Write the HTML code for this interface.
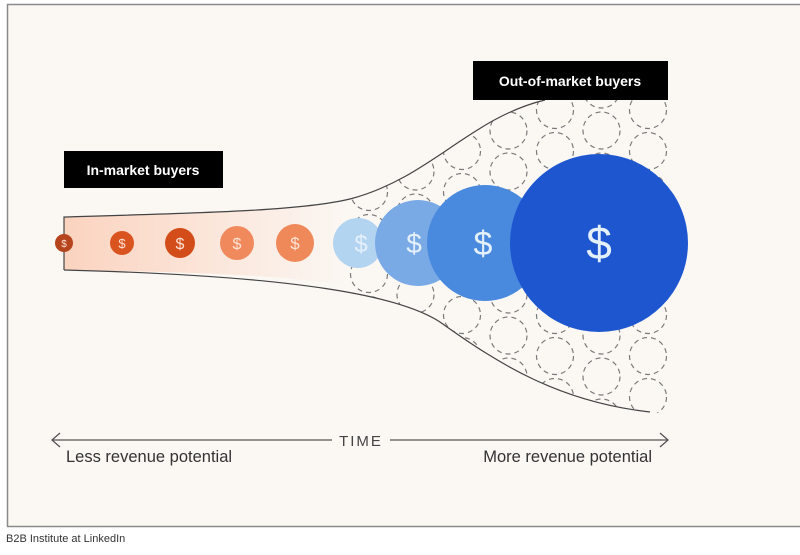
<!DOCTYPE html>
<html><head><meta charset="utf-8"><style>
html,body{margin:0;padding:0;background:#fff;}
body{width:800px;height:550px;overflow:hidden;font-family:"Liberation Sans",sans-serif;}
</style></head><body>
<svg width="800" height="550" viewBox="0 0 800 550" xmlns="http://www.w3.org/2000/svg">
<defs>
<linearGradient id="fg" x1="64" y1="0" x2="345" y2="0" gradientUnits="userSpaceOnUse">
<stop offset="0" stop-color="#fbd3bf"/><stop offset="1" stop-color="#fbf7f3"/>
</linearGradient>
<pattern id="dc" x="90" y="28" width="93" height="82" patternUnits="userSpaceOnUse">
<g fill="none" stroke="#7a7a7a" stroke-width="1.2" stroke-dasharray="5 4">
<circle cx="0" cy="0" r="18.5"/><circle cx="93" cy="0" r="18.5"/>
<circle cx="0" cy="41" r="18.5"/><circle cx="93" cy="41" r="18.5"/>
<circle cx="0" cy="82" r="18.5"/><circle cx="93" cy="82" r="18.5"/>
<circle cx="46.5" cy="20.5" r="18.5"/><circle cx="46.5" cy="61.5" r="18.5"/>
</g>
</pattern>
<clipPath id="fc">
<path d="M64,217 C200,213 300,211 350,199 C430,178 470,118 545,100 L668,92 L668,414 L650,412 C560,402 500,365 440,322 C400,296 300,276 64,270 Z"/>
</clipPath>
</defs>
<rect x="0" y="0" width="800" height="550" fill="#fff"/>
<rect x="7.5" y="4.5" width="800" height="522" fill="#fbf8f4" stroke="#8a8a8a" stroke-width="1.5"/>
<path d="M64,217 C200,213 300,211 350,199 L350,287 C300,276 200,272 64,270 Z" fill="url(#fg)"/>
<rect x="343" y="80" width="337" height="340" fill="url(#dc)" clip-path="url(#fc)"/>
<g fill="none" stroke="#444" stroke-width="1.2">
<path d="M64,270 L64,217 C200,213 300,211 350,199 C430,178 470,118 545,100"/>
<path d="M64,270 C300,276 400,296 440,322 C500,365 560,402 650,412"/>
</g>
<g font-family="Liberation Sans, sans-serif" text-anchor="middle" fill="#fde3d6">
<circle cx="64" cy="243" r="9" fill="#b5441c"/><text x="64" y="247" font-size="10">$</text>
<circle cx="122" cy="243" r="12" fill="#d9541f"/><text x="122" y="248" font-size="13">$</text>
<circle cx="180" cy="243" r="15" fill="#d24d19"/><text x="180" y="249" font-size="16">$</text>
<circle cx="237" cy="243" r="17" fill="#f08a5d"/><text x="237" y="249" font-size="16">$</text>
<circle cx="295" cy="243" r="19" fill="#f0895a"/><text x="295" y="249" font-size="17">$</text>
</g>
<g font-family="Liberation Sans, sans-serif" text-anchor="middle" fill="#e4f0fb">
<circle cx="358" cy="243" r="25" fill="#b3d4f0"/><text x="361" y="252" font-size="24">$</text>
<circle cx="418" cy="243" r="43" fill="#7aaae6"/><text x="414" y="253" font-size="28">$</text>
<circle cx="485" cy="243" r="58" fill="#4a8ade"/><text x="483" y="255" font-size="34">$</text>
<circle cx="599" cy="243" r="89" fill="#1e56d0"/><text x="599" y="259" font-size="46">$</text>
</g>
<rect x="64" y="151" width="159" height="37" fill="#000"/>
<text x="143" y="175" text-anchor="middle" fill="#fff" font-size="14" font-weight="bold">In-market buyers</text>
<rect x="473" y="61" width="195" height="39" fill="#000"/>
<text x="570" y="86" text-anchor="middle" fill="#fff" font-size="14" font-weight="bold">Out-of-market buyers</text>
<g stroke="#555" stroke-width="1.3" fill="none">
<path d="M52,440 L332,440 M390,440 L668,440"/>
<path d="M60,433 L52,440 L60,447 M660,433 L668,440 L660,447"/>
</g>
<text x="361" y="446" text-anchor="middle" font-size="15" fill="#444" letter-spacing="2">TIME</text>
<text x="66" y="462" font-size="16.5" fill="#333">Less revenue potential</text>
<text x="652" y="462" text-anchor="end" font-size="16.5" fill="#333">More revenue potential</text>
<text x="6" y="542" font-size="11" fill="#333">B2B Institute at LinkedIn</text>
</svg>
</body></html>
